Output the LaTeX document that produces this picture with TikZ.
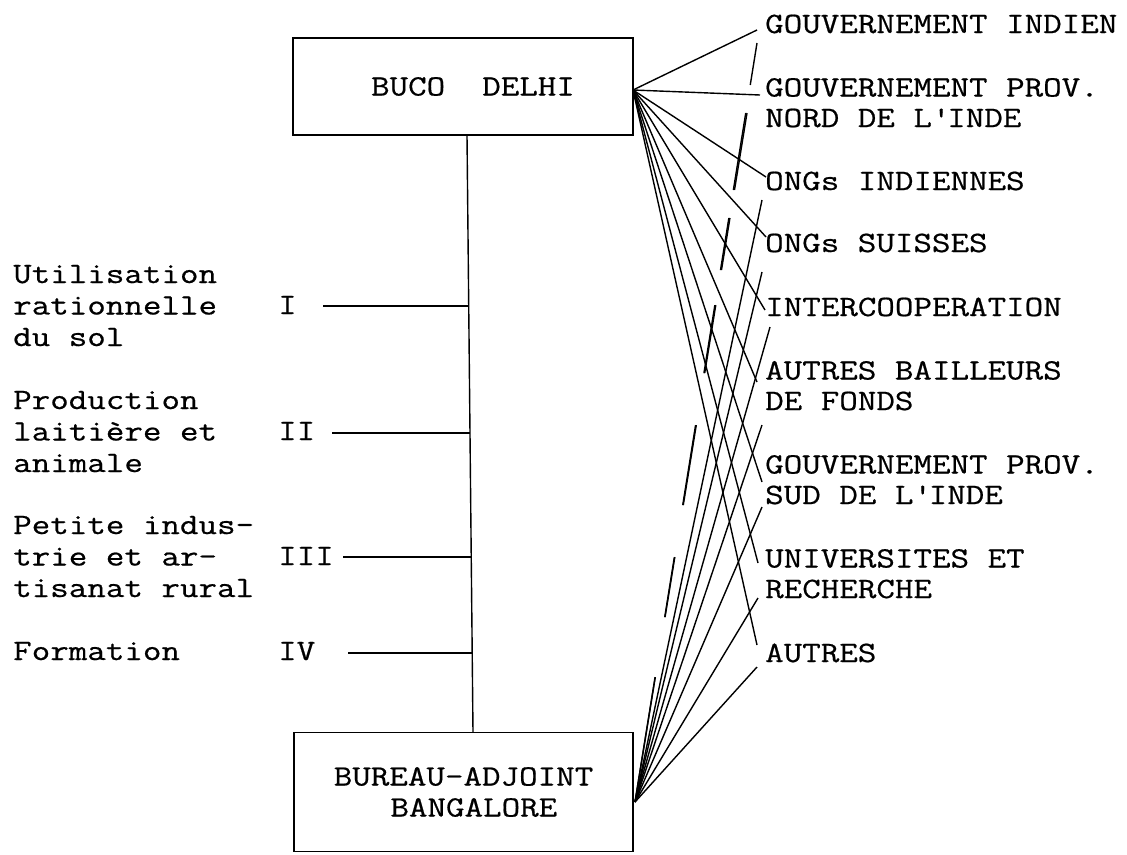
\documentclass[tikz,border=0pt]{standalone}
\usepackage{fontspec}
\newfontfamily\tw{Latin Modern Mono}[FakeStretch=1.22, FakeBold=0.6]
\begin{document}
\begin{tikzpicture}[x=1pt,y=-1pt,
  txt/.style={font=\tw\fontsize{29.5}{30.5}\selectfont, inner sep=0pt, anchor=base west, align=left},
  ltxt/.style={font=\tw\fontsize{29.5}{31.5}\selectfont, inner sep=0pt, anchor=base west, align=left},
  office/.style={draw, line width=1.7pt, inner sep=0pt, font=\tw\fontsize{29.5}{31}\selectfont, align=left},
  link/.style={line width=1.4pt},
  brk/.style={line width=1.4pt}]
\useasboundingbox (0,0) rectangle (1127,854);

% offices
\node[office, minimum width=340pt, minimum height=97pt] (delhi) at (463,86.5) {\hspace*{20pt}BUCO\ \ DELHI};
\node[office, minimum width=339pt, minimum height=119pt] (bang) at (463.5,792) {BUREAU-ADJOINT\\\hspace*{56.7pt}BANGALORE};

% stem
\coordinate (stemtop) at (467,135.5);
\coordinate (stembot) at (473,732.5);
\draw[link] (stemtop) -- (stembot);

% left labels (anchored at the baseline of the last line)
\node[ltxt] (l1) at (13,346) {Utilisation\\rationnelle\\du sol};
\node[ltxt] (l2) at (13,472) {Production\\laitière et\\animale};
\node[ltxt] (l3) at (13,597) {Petite indus-\\trie et ar-\\tisanat rural};
\node[ltxt] (l4) at (13,660) {Formation};
\node[ltxt] (n1) at (278,314) {I};
\node[ltxt] (n2) at (278,440) {II};
\node[ltxt] (n3) at (278,565) {III};
\node[ltxt] (n4) at (278,660) {IV};

\coordinate (a1) at (323,306); \coordinate (s1) at (468.7,306);
\coordinate (a2) at (332,433); \coordinate (s2) at (470,433);
\coordinate (a3) at (343,557); \coordinate (s3) at (471.2,557);
\coordinate (a4) at (348,653); \coordinate (s4) at (472.2,653);
\draw[link] (a1) -- (s1);
\draw[link] (a2) -- (s2);
\draw[link] (a3) -- (s3);
\draw[link] (a4) -- (s4);

% right labels (anchored at the baseline of the last line)
\node[txt] (r1) at (765,33) {GOUVERNEMENT INDIEN};
\node[txt] (r2) at (765,127) {GOUVERNEMENT PROV.\\NORD DE L\textquotesingle INDE};
\node[txt] (r3) at (765,190) {ONGs INDIENNES};
\node[txt] (r4) at (765,252) {ONGs SUISSES};
\node[txt] (r5) at (765,316) {INTERCOOPERATION};
\node[txt] (r6) at (765,410) {AUTRES BAILLEURS\\DE FONDS};
\node[txt] (r7) at (765,504) {GOUVERNEMENT PROV.\\SUD DE L\textquotesingle INDE};
\node[txt] (r8) at (765,598) {UNIVERSITES ET\\RECHERCHE};
\node[txt] (r9) at (765,662) {AUTRES};

% fan origins
\coordinate (tf) at (633,90);
\coordinate (bf) at (635,802);

% ends of lines from BUCO DELHI
\coordinate (t1) at (757,30);
\coordinate (t2) at (760,95);
\coordinate (t3) at (766,177);
\coordinate (t4) at (766,237);
\coordinate (t5) at (765,310);
\coordinate (t6) at (757,382);
\coordinate (t7) at (762,482);
\coordinate (t8) at (758,563);
\coordinate (t9) at (757,645);
\foreach \i in {1,...,9} {\draw[link] (tf) -- (t\i);}

% ends of lines from Bangalore
\coordinate (b1) at (757,43);
\coordinate (b2) at (747,113);
\coordinate (b3) at (762,200);
\coordinate (b4) at (762,272);
\coordinate (b5) at (770,327);
\coordinate (b6) at (762,425);
\coordinate (b7) at (762,507);
\coordinate (b8) at (758,598);
\coordinate (b9) at (757,667);
\foreach \i in {3,...,9} {\draw[link] (bf) -- (b\i);}
\draw[brk, dash pattern=on 42.5pt off 28.4pt on 78pt off 28.4pt on 52.7pt off 35.5pt on 68.9pt off 52.7pt on 81pt off 52.7pt on 60.8pt off 60.8pt on 140pt off 10pt] (b1) -- (bf);
\draw[brk, dash pattern=on 78pt off 28.4pt on 52.7pt off 35.5pt on 68.9pt off 52.7pt on 81pt off 52.7pt on 60.8pt off 60.8pt on 140pt off 10pt] (b2) -- (bf);
\end{tikzpicture}
\end{document}
